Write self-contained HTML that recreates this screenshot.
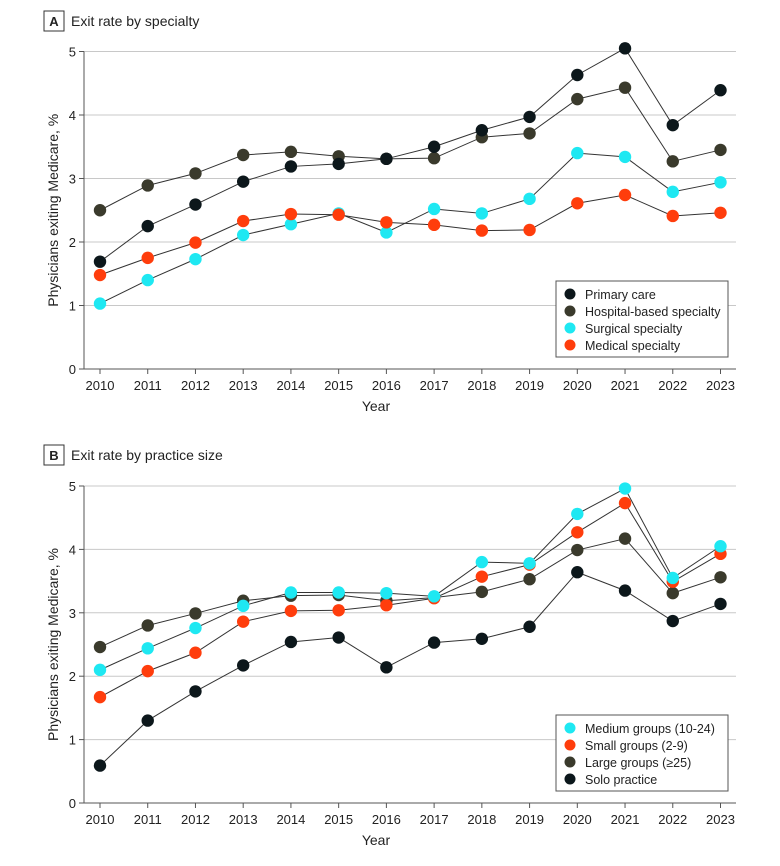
<!DOCTYPE html>
<html><head><meta charset="utf-8"><style>
body{margin:0;background:#fff;font-family:"Liberation Sans",sans-serif;}
svg text{font-family:"Liberation Sans",sans-serif;fill:#222;}
</style></head><body>
<svg id="c" width="780" height="861"></svg>
<script>
const years=[2010,2011,2012,2013,2014,2015,2016,2017,2018,2019,2020,2021,2022,2023];
const yTicks=[0,1,2,3,4,5];
const primaryCare=[1.69,2.25,2.59,2.95,3.19,3.23,3.31,3.50,3.76,3.97,4.63,5.05,3.84,4.39];
const hospitalBased=[2.50,2.89,3.08,3.37,3.42,3.35,3.31,3.32,3.65,3.71,4.25,4.43,3.27,3.45];
const surgical=[1.03,1.40,1.73,2.11,2.28,2.45,2.15,2.52,2.45,2.68,3.40,3.34,2.79,2.94];
const medical=[1.48,1.75,1.99,2.33,2.44,2.43,2.31,2.27,2.18,2.19,2.61,2.74,2.41,2.46];
const mediumGroups=[2.10,2.44,2.76,3.11,3.32,3.32,3.31,3.26,3.80,3.78,4.56,4.96,3.55,4.05];
const smallGroups=[1.67,2.08,2.37,2.86,3.03,3.04,3.12,3.23,3.57,3.76,4.27,4.73,3.49,3.93];
const largeGroups=[2.46,2.80,2.99,3.19,3.27,3.28,3.19,3.24,3.33,3.53,3.99,4.17,3.31,3.56];
const soloPractice=[0.59,1.30,1.76,2.17,2.54,2.61,2.14,2.53,2.59,2.78,3.64,3.35,2.87,3.14];

const NS="http://www.w3.org/2000/svg";
const svg=document.getElementById('c');
function mk(tag,attrs,parent){const e=document.createElementNS(NS,tag);for(const k in attrs)e.setAttribute(k,attrs[k]);(parent||svg).appendChild(e);return e;}
const C={dark:'#0c171b',olive:'#3a3a2c',cyan:'#1ee8f2',orange:'#ff3d0c'};

function panel(o){
  const g=mk('g',{});
  
  
  const x=i=>o.x0+(o.x1-o.x0)*i/(years.length-1);
  const y=v=>o.y0-(o.y0-o.y5)*v/5;
  const tb=mk('rect',{x:44,y:o.ty-9,width:20,height:20,fill:'#fff',stroke:'#333','stroke-width':1},g);
  
  const tl=mk('text',{x:54,y:o.ty+6,'text-anchor':'middle','font-size':13,'font-weight':'bold'},g);tl.textContent=o.letter;
  
  const tt=mk('text',{x:71,y:o.ty+6,'font-size':14},g);tt.textContent=o.title;
  
  yTicks.forEach(t=>{
    if(t>0){const gl=mk('line',{x1:84,x2:736,y1:y(t),y2:y(t),stroke:'#c8c8c8','stroke-width':1},g);
      }
    mk('line',{x1:79,x2:84,y1:y(t),y2:y(t),stroke:'#555'},g);
    const lb=mk('text',{x:76,y:y(t)+5,'text-anchor':'end','font-size':13},g);lb.textContent=t;
    
  });
  const ya=mk('line',{x1:84,x2:84,y1:o.y5,y2:o.y0,stroke:'#555'},g);
  
  const xa=mk('line',{x1:84,x2:736,y1:o.y0,y2:o.y0,stroke:'#555'},g);
  
  years.forEach((yr,i)=>{
    mk('line',{x1:x(i),x2:x(i),y1:o.y0,y2:o.y0+5,stroke:'#555'},g);
    const lb=mk('text',{x:x(i),y:o.y0+21,'text-anchor':'middle','font-size':13},g);lb.textContent=yr;
    
  });
  const xt=mk('text',{x:376,y:o.y0+42,'text-anchor':'middle','font-size':14},g);xt.textContent='Year';
  
  const yc=(o.y0+o.y5)/2;
  const yt=mk('text',{x:0,y:0,'text-anchor':'middle','font-size':14,transform:`translate(58,${yc}) rotate(-90)`},g);
  yt.textContent='Physicians exiting Medicare, %';
  
  o.series.forEach(s=>{
    const sg=mk('g',{},g);
    
    const pts=s.vals.map((v,i)=>x(i)+','+y(v)).join(' ');
    const pl=mk('polyline',{points:pts,fill:'none',stroke:'#333','stroke-width':1},sg);
    
  });
  o.series.forEach(s=>{
    s.vals.forEach((v,i)=>{
      const c=mk('circle',{cx:x(i),cy:y(v),r:6.2,fill:s.color},g);
      
      
    });
  });
  const lg=mk('g',{},g);
  
  mk('rect',{x:556,y:o.ly,width:172,height:76,fill:'#fff',stroke:'#555','stroke-width':1},lg);
  o.legend.forEach((s,k)=>{
    const e=mk('g',{},lg);
    
    mk('circle',{cx:570,cy:o.ly+13+k*17,r:5.5,fill:s.color},e);
    const t=mk('text',{x:585,y:o.ly+18+k*17,'font-size':12.5},e);t.textContent=s.label;
  });
}
const specSeries=[
 {key:'surgical',vals:surgical,color:C.cyan,label:'Surgical specialty'},
 {key:'medical',vals:medical,color:C.orange,label:'Medical specialty'},
 {key:'hospital-based',vals:hospitalBased,color:C.olive,label:'Hospital-based specialty'},
 {key:'primary-care',vals:primaryCare,color:C.dark,label:'Primary care'}];
panel({name:'panel-a-specialty',letter:'A',title:'Exit rate by specialty',ty:20,y0:369,y5:51.5,x0:100,x1:720.5,ly:281,
  series:specSeries,legend:[specSeries[3],specSeries[2],specSeries[0],specSeries[1]]});
const sizeSeries=[
 {key:'solo',vals:soloPractice,color:C.dark,label:'Solo practice'},
 {key:'large',vals:largeGroups,color:C.olive,label:'Large groups (≥25)'},
 {key:'small',vals:smallGroups,color:C.orange,label:'Small groups (2-9)'},
 {key:'medium',vals:mediumGroups,color:C.cyan,label:'Medium groups (10-24)'}];
panel({name:'panel-b-practice-size',letter:'B',title:'Exit rate by practice size',ty:454,y0:803,y5:486,x0:100,x1:720.5,ly:715,
  series:sizeSeries,legend:[sizeSeries[3],sizeSeries[2],sizeSeries[1],sizeSeries[0]]});
</script>
</body></html>
